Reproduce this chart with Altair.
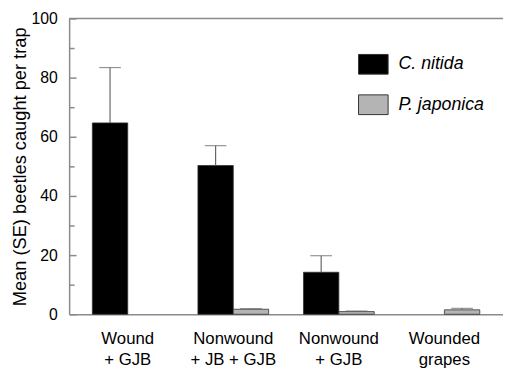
import altair as alt
import pandas as pd

categories = ["Wound|+ GJB", "Nonwound|+ JB + GJB", "Nonwound|+ GJB", "Wounded|grapes"]
species = ["C. nitida", "P. japonica"]
nitida_mean = [64.7, 50.3, 14.2, 0.0]
nitida_se = [18.7, 6.7, 5.6, 0.0]
japonica_mean = [0.0, 1.7, 0.9, 1.5]
japonica_se = [0.0, 0.2, 0.2, 0.5]
major_ticks = [0, 20, 40, 60, 80, 100]
minor_ticks = [10, 30, 50, 70, 90]

rows = []
for i, c in enumerate(categories):
    rows.append({"cat": c, "sp": species[0], "mean": nitida_mean[i], "se": nitida_se[i]})
    rows.append({"cat": c, "sp": species[1], "mean": japonica_mean[i], "se": japonica_se[i]})
df = pd.DataFrame(rows)
df["upper"] = df["mean"] + df["se"]
err = df[df["se"] > 0]
barsdf = df[df["mean"] > 0]

FONT = "Liberation Sans"
AX = "#8a8a8a"

xenc = alt.X("cat:N", sort=categories, title="",
             scale=alt.Scale(domain=categories, paddingInner=0.33, paddingOuter=0.22),
             axis=alt.Axis(labelExpr="split(datum.label, '|')", labelAngle=0,
                           labelFontSize=17, labelFont=FONT, labelColor="black",
                           labelLineHeight=21, labelPadding=17, ticks=False,
                           domainColor=AX, domainWidth=1.5))
xoff = alt.XOffset("sp:N", sort=species,
                   scale=alt.Scale(domain=species, paddingInner=0, paddingOuter=0))
yscale = alt.Scale(domain=[0, 100], nice=False)

bars = alt.Chart(barsdf).mark_bar(stroke="#333333", strokeWidth=0.8).encode(
    x=xenc,
    xOffset=xoff,
    y=alt.Y("mean:Q", scale=yscale, title="Mean (SE) beetles caught per trap",
            axis=alt.Axis(values=major_ticks, ticks=False, labelFontSize=16, labelFont=FONT,
                          labelColor="black", labelPadding=12, domainColor=AX, domainWidth=1.5,
                          titleFont=FONT, titleFontSize=18.5, titleFontWeight="normal",
                          titleColor="black", titlePadding=2, grid=False)),
    color=alt.Color("sp:N", sort=species,
                    scale=alt.Scale(domain=species, range=["#000000", "#b4b4b4"]),
                    legend=alt.Legend(title="", orient="none", legendX=293, legendY=31,
                                      labelFont=FONT, labelFontSize=18, labelFontStyle="italic",
                                      labelColor="black", labelOffset=10,
                                      symbolType="M-1,-0.667H1V0.667H-1Z", symbolSize=900,
                                      symbolStrokeColor="#333333", symbolStrokeWidth=1,
                                      symbolOpacity=1, rowPadding=13)),
)

whisk = alt.Chart(err).mark_rule(color="#666666", strokeWidth=1.2).encode(
    x=xenc, xOffset=xoff,
    y=alt.Y("mean:Q", scale=yscale, title="",
            axis=alt.Axis(orient="left", values=major_ticks, offset=-7, tickSize=7,
                          tickColor=AX, tickWidth=1.5, labels=False, domain=False, grid=False)),
    y2="upper:Q",
)

caps = alt.Chart(err).mark_tick(color="#666666", thickness=1.2, size=22, orient="horizontal").encode(
    x=xenc, xOffset=xoff,
    y=alt.Y("upper:Q", scale=yscale, title="",
            axis=alt.Axis(orient="left", values=minor_ticks, offset=-5, tickSize=5,
                          tickColor=AX, tickWidth=1.5, labels=False, domain=False, grid=False)),
)

top = alt.Chart(pd.DataFrame({"y": [100]})).mark_rule(color=AX, strokeWidth=1.5).encode(
    y=alt.Y("y:Q", scale=yscale, axis=None)
)

chart = alt.layer(bars, whisk, caps, top).resolve_scale(y="shared").resolve_axis(
    y="independent", x="shared"
).properties(
    width=440, height=300,
    autosize=alt.AutoSizeParams(type="none"),
    padding={"left": 62, "top": 8, "right": 0, "bottom": 60},
).configure_view(stroke=None).configure_legend(padding=0)

chart.save("out.html", embed_options={"renderer": "svg", "actions": False})
